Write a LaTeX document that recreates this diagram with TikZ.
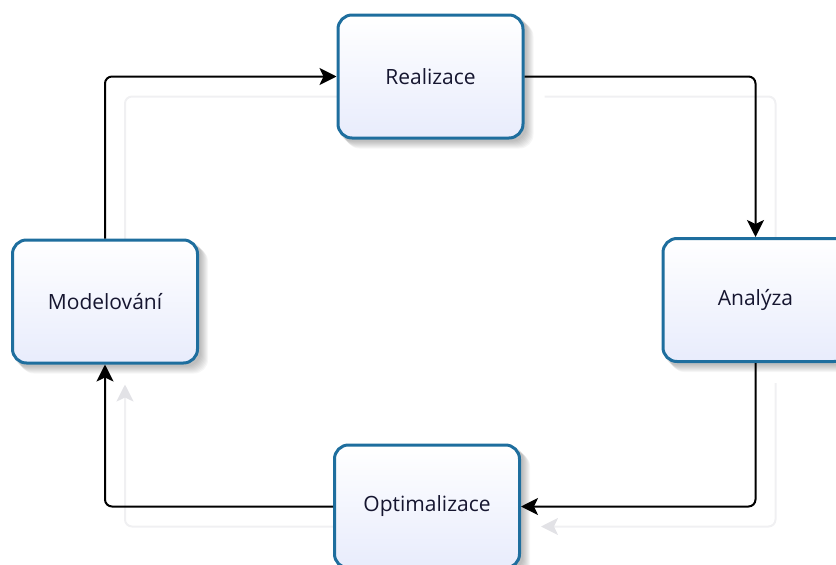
\documentclass[tikz,border=0pt]{standalone}
\usepackage{fontspec}
\setmainfont{Open Sans}
\usetikzlibrary{arrows.meta}
\definecolor{boxline}{RGB}{30,110,158}
\definecolor{boxfill}{RGB}{232,236,252}
\definecolor{txt}{RGB}{22,22,48}
\definecolor{ghost}{RGB}{240,240,242}
\definecolor{ghosttip}{RGB}{226,226,230}
\pgfdeclarelayer{ghostlayer}
\pgfdeclarelayer{shadelayer}
\pgfsetlayers{ghostlayer,shadelayer,main}
\begin{document}
\begin{tikzpicture}[x=1pt,y=-1pt,
  stage/.style={rectangle, rounded corners=14pt, minimum width=185pt, minimum height=123pt,
    draw=boxline, line width=3pt, top color=white, bottom color=boxfill,
    text=txt, font=\fontsize{21}{24}\selectfont, inner sep=0pt},
  conn/.style={draw=black, line width=2pt, rounded corners=7pt,
    -{Stealth[length=17pt,width=17pt,inset=4pt]}},
  ghostconn/.style={draw=ghost, line width=2pt, rounded corners=7pt,
    -{Stealth[length=17pt,width=17pt,inset=4pt,color=ghosttip]}},
  gs/.style={shift={(20,20)}}]
\useasboundingbox (0,0) rectangle (836,565);
\clip (0,0) rectangle (836,565);

% process stages
\node[stage] (real) at (430.5,76.5) {Realizace};
\node[stage] (ana)  at (755.5,300)  {Analýza};
\node[stage] (opt)  at (427,506.5)  {Optimalizace};
\node[stage] (mod)  at (105,301.5)  {Modelování};

% soft drop shadows behind the stages
\begin{pgfonlayer}{shadelayer}
  \foreach \n in {real,ana,opt,mod}{
    \foreach \k in {1,...,8}{
      \fill[black, opacity=0.035, rounded corners=14pt]
        ([shift={(\k+1,\k+1)}]\n.north west) rectangle ([shift={(\k+1,\k+1)}]\n.south east);
    }
  }
\end{pgfonlayer}

% faint offset copy of the cycle
\begin{pgfonlayer}{ghostlayer}
  \draw[ghostconn] ([gs]mod.north) |- ([gs]real.west);
  \draw[ghostconn] ([gs]real.east) -| ([gs]ana.north);
  \draw[ghostconn] ([gs]ana.south) |- ([gs]opt.east);
  \draw[ghostconn] ([gs]opt.west) -| ([gs]mod.south);
\end{pgfonlayer}

% cycle connectors
\draw[conn] (mod.north) |- (real.west);
\draw[conn] (real.east) -| (ana.north);
\draw[conn] (ana.south) |- (opt.east);
\draw[conn] (opt.west) -| (mod.south);
\end{tikzpicture}
\end{document}
